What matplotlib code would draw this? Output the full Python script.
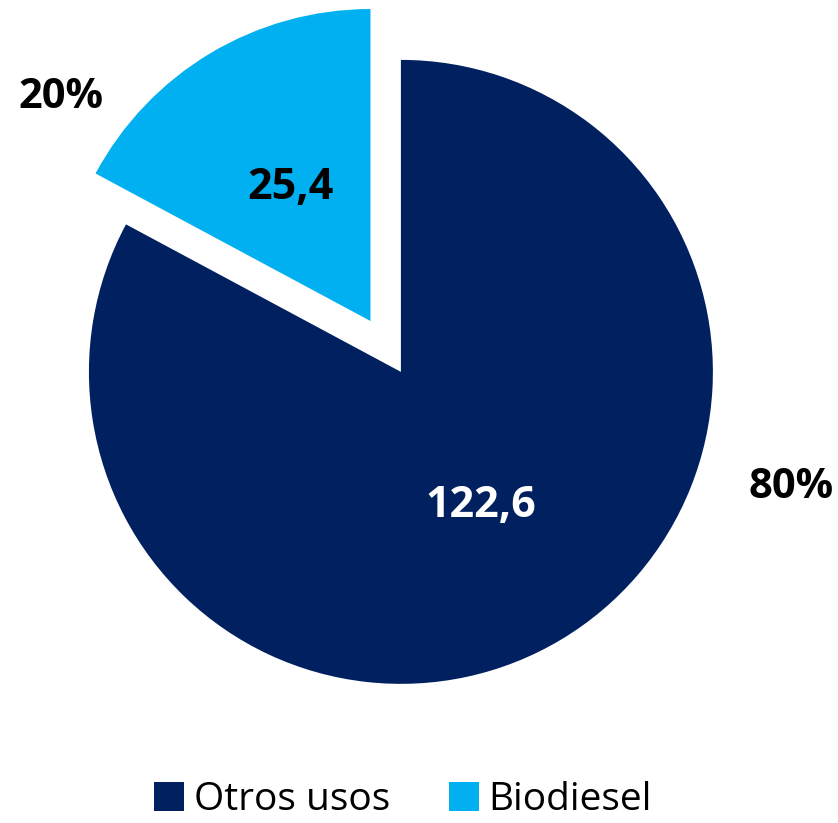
import matplotlib.pyplot as plt
from matplotlib.patches import Patch

# Datos del grafico
categorias = ['Otros usos', 'Biodiesel']
valores = [122.6, 25.4]
etiquetas_pct = ['80%', '20%']
colores = ['#002060', '#00B0F0']

plt.rcParams['font.family'] = ['Open Sans', 'DejaVu Sans']

fig = plt.figure(figsize=(8.38, 8.23), dpi=100)
ax = fig.add_axes([0, 0, 1, 1])

def fmt_valor(pct):
    v = pct * sum(valores) / 100.0
    return ('%.1f' % v).replace('.', ',')

wedges, texts, autotexts = ax.pie(valores, colors=colores, startangle=90,
                                  counterclock=False, explode=[0, 0.19],
                                  autopct=fmt_valor, pctdistance=0.5,
                                  radius=1.0)
autotexts[0].set_color('white')
autotexts[1].set_color('black')
for t in autotexts:
    t.set_fontsize(31)
    t.set_fontweight('bold')

# porcentajes fuera del pastel
ax.text(1.25, -0.37, etiquetas_pct[0], fontsize=30, fontweight='bold',
        ha='center', va='center')
ax.text(-1.09, 0.88, etiquetas_pct[1], fontsize=30, fontweight='bold',
        ha='center', va='center')

ax.set_xlim(-1.285, 1.401)
ax.set_ylim(-1.446, 1.192)
ax.set_aspect('auto')
ax.axis('off')

handles = [Patch(facecolor=c, edgecolor='none') for c in colores]
fig.legend(handles, categorias, loc='center', bbox_to_anchor=(0.481, 0.028),
           ncol=2, frameon=False, fontsize=28, handlelength=0.77,
           handleheight=0.77, handletextpad=0.26, columnspacing=1.5)

plt.savefig('out.png', dpi=100)
